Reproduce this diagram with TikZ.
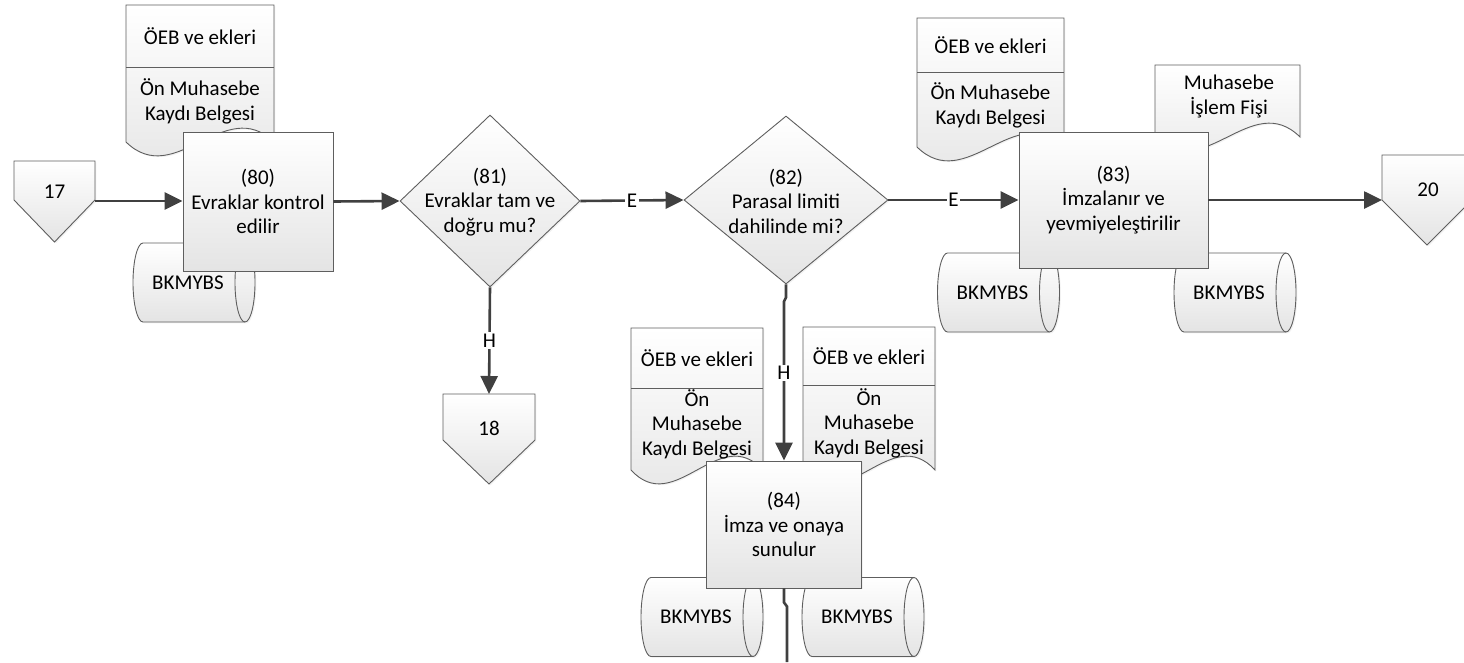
\documentclass[tikz,border=0pt]{standalone}
\usepackage{fontspec}
\setmainfont{Carlito}
\usetikzlibrary{arrows.meta,shapes.geometric,shadows,calc}
\definecolor{edge}{HTML}{5E5E5E}
\definecolor{flow}{HTML}{404040}
\definecolor{fillbot}{HTML}{E4E4E4}
\tikzset{
 shapefill/.style={draw=edge, line width=0.9pt, top color=white, bottom color=fillbot,
   drop shadow={shadow xshift=1.4pt,shadow yshift=-1.4pt,opacity=0.1}},
 shapeline/.style={draw=edge, line width=0.9pt},
 txt/.style={font=\fontsize{21}{24.5}\selectfont, align=center, inner sep=0pt, text=black},
 proc/.style={shapefill, rectangle, txt},
 dec/.style={shapefill, diamond, inner sep=0pt},
 arr/.style={draw=flow, line width=2.6pt, -{Triangle[length=18pt,width=17pt]}},
 flowline/.style={draw=flow, line width=2.6pt},
 lbl/.style={txt, fill=white, inner sep=1.5pt},
}
% cylinder: name, cx, cy, text
\newcommand\mycyl[4]{%
 \pgfmathsetmacro\cxa{#2-51}\pgfmathsetmacro\cxb{#2+51}%
 \pgfmathsetmacro\cta{#3-39.5}\pgfmathsetmacro\ctb{#3+39.5}%
 \path[shapefill] (\cxa,\cta) -- (\cxb,\cta) arc[start angle=90,end angle=-90,x radius=10pt,y radius=39.5pt]
   -- (\cxa,\ctb) arc[start angle=270,end angle=90,x radius=10pt,y radius=39.5pt] -- cycle;
 \draw[shapeline] (\cxb,\cta) arc[start angle=90,end angle=270,x radius=10pt,y radius=39.5pt];
 \node[txt] (#1) at (#2-6,#3) {#4};}
% document: L R T B
\newcommand\mydoc[4]{%
 \pgfmathsetmacro\dwa{#1+(#2-#1)/3}\pgfmathsetmacro\dwb{#1+2*(#2-#1)/3}%
 \path[shapefill] (#1,#3) -- (#2,#3) -- (#2,#4) .. controls (\dwb,#4-48) and (\dwa,#4+48) .. (#1,#4) -- cycle;}
\begin{document}
\begin{tikzpicture}[x=1pt,y=-1pt]
\useasboundingbox (0,0) rectangle (1464,662);
% ---- documents
\mydoc{126}{274}{5}{142}
\draw[shapeline] (126,67) -- (274,67);
\node[txt] (dA1) at (200,36) {ÖEB ve ekleri};
\node[txt] (dA2) at (200,101.5) {Ön Muhasebe\\Kaydı Belgesi};

\mydoc{917}{1064}{18}{147}
\draw[shapeline] (917,72) -- (1064,72);
\node[txt] (dB1) at (990.5,45) {ÖEB ve ekleri};
\node[txt] (dB2) at (990.5,105.5) {Ön Muhasebe\\Kaydı Belgesi};

\mydoc{1155}{1300}{65}{137}
\node[txt] (dC) at (1229,96.5) {Muhasebe\\İşlem Fişi};

\mydoc{631}{763}{328}{470}
\draw[shapeline] (631,388) -- (763,388);
\node[txt] (dD1) at (697,358) {ÖEB ve ekleri};
\node[txt] (dD2) at (697,424) {Ön\\Muhasebe\\Kaydı Belgesi};

\mydoc{803}{935}{327}{470}
\draw[shapeline] (803,385) -- (935,385);
\node[txt] (dE1) at (869,356) {ÖEB ve ekleri};
\node[txt] (dE2) at (869,423) {Ön\\Muhasebe\\Kaydı Belgesi};

% ---- cylinders
\mycyl{c1}{194}{282.5}{BKMYBS}
\mycyl{c2}{998.5}{292.5}{BKMYBS}
\mycyl{c3}{1235}{292.5}{BKMYBS}
\mycyl{c4}{702}{617}{BKMYBS}
\mycyl{c5}{863}{617}{BKMYBS}

% ---- off-page connectors
\path[shapefill] (14,161) -- (95,161) -- (95,200) -- (54.5,242) -- (14,200) -- cycle;
\node[txt] (o17) at (54.5,192) {17};
\coordinate (o17r) at (95,201);
\path[shapefill] (443,394) -- (535,394) -- (535,440) -- (489,484) -- (443,440) -- cycle;
\node[txt] (o18) at (489,428) {18};
\coordinate (o18t) at (489,394);
\path[shapefill] (1382,155) -- (1472,155) -- (1472,200) -- (1427,245) -- (1382,200) -- cycle;
\node[txt] (o20) at (1428,190) {20};
\coordinate (o20l) at (1382,200);

% ---- decisions
\node[dec, minimum width=180pt, minimum height=172pt] (d81) at (490,201) {};
\node[txt] (t81) at (490,202) {(81)\\Evraklar tam ve\\doğru mu?};
\node[dec, minimum width=204pt, minimum height=168pt] (d82) at (786,200) {};
\node[txt] (t82) at (786,201) {(82)\\Parasal limiti\\dahilinde mi?};

% ---- processes
\node[proc, minimum width=150pt, minimum height=139pt] (p80) at (258,201.5) {(80)\\Evraklar kontrol\\edilir};
\node[proc, minimum width=189pt, minimum height=136pt] (p83) at (1113.5,200) {(83)\\İmzalanır ve\\yevmiyeleştirilir};
\node[proc, minimum width=155pt, minimum height=127pt] (p84) at (784,524.5) {(84)\\İmza ve onaya\\sunulur};

% ---- connectors
\coordinate (endB) at (787,662);
\draw[arr] (o17r) -- (p80.west |- o17r);
\draw[arr] (p80.east) -- (d81.west);
\draw[arr] (d81.east) -- node[lbl] {E} (d82.west);
\draw[arr] (d82.east) -- node[lbl] {E} (p83.west);
\draw[arr] (p83.east) -- (o20l);
\draw[arr] (d81.south) -- node[lbl, pos=0.5] {H} (o18t);
\draw[arr] (d82.south) -- ++(0,13) -- ++(-2,4) -- node[lbl, pos=0.45] {H} (p84.north);
\draw[flowline] (p84.south) -- ++(0,14) -- ++(3,4) -- (endB);
\end{tikzpicture}
\end{document}
